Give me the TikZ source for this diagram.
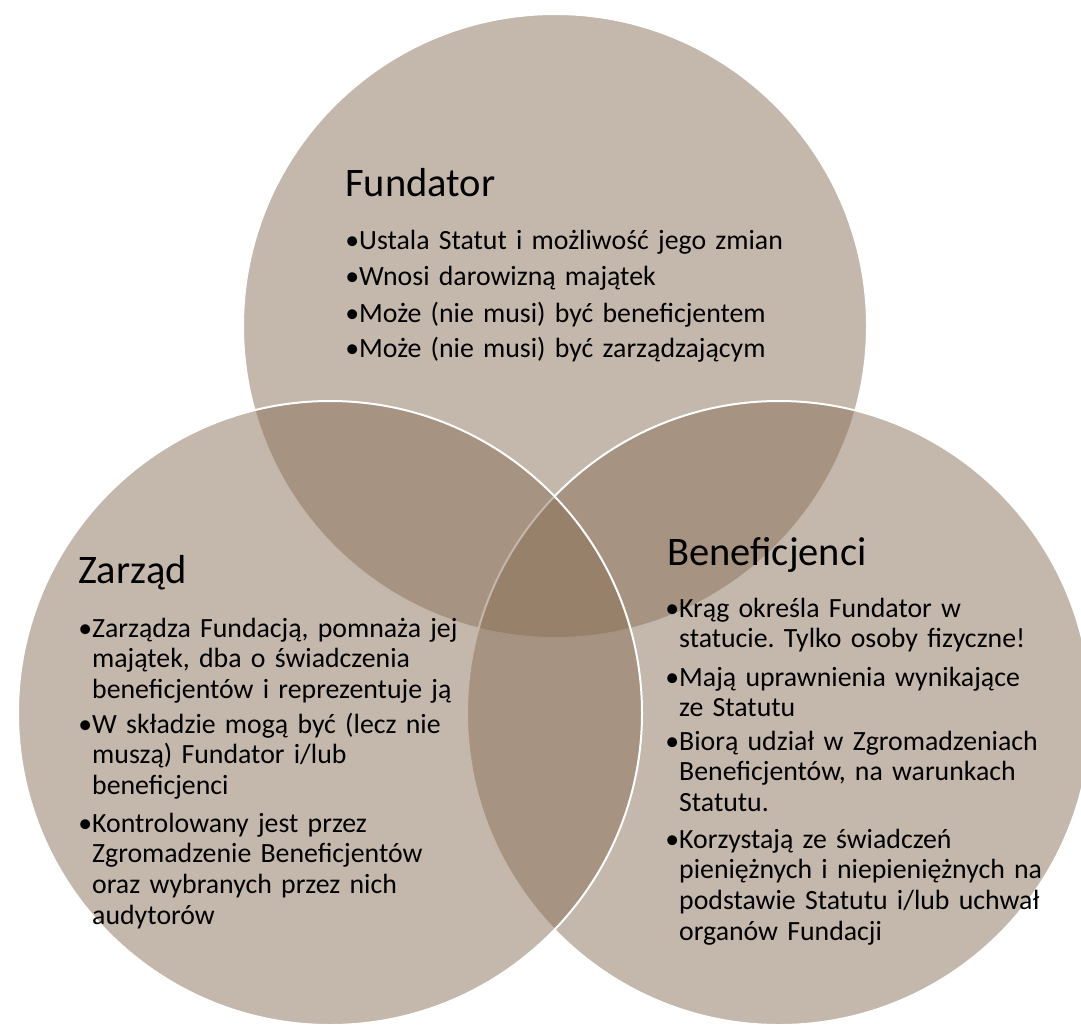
\documentclass[tikz,border=0pt]{standalone}
\usepackage{fontspec}
\setmainfont[WordSpace=0.75]{Carlito}
\definecolor{kolo}{RGB}{137,111,87}
\newcommand{\pkt}{\llap{•}}
\frenchspacing
\begin{document}
\begin{tikzpicture}[x=1pt,y=-1pt,
  krag/.style={fill=kolo,fill opacity=.5,draw=white,line width=2pt},
  tytul/.style={anchor=base west,inner sep=0pt,font=\fontsize{40.5}{44}\selectfont},
  punkt/.style={anchor=base west,inner sep=0pt,text width=480pt,align=left,font=\fontsize{27.8}{30.7}\selectfont}]
\useasboundingbox (0,0) rectangle (1081,1026);
\clip (0,0) rectangle (1081,1026);
\draw[krag] (555,326) circle[radius=312pt];
\draw[krag] (779,713) circle[radius=312pt];
\draw[krag] (330,713) circle[radius=312pt];
% Fundator
\node[tytul] (fundator) at (345,196) {Fundator};
\node[punkt] (fund1) at (359,249) {\pkt Ustala Statut i możliwość jego zmian};
\node[punkt] (fund2) at (359,285) {\pkt Wnosi darowizną majątek};
\node[punkt] (fund3) at (359,322) {\pkt Może (nie musi) być beneficjentem};
\node[punkt] (fund4) at (359,357) {\pkt Może (nie musi) być zarządzającym};
% Zarzad
\node[tytul] (zarzad) at (78,583) {Zarząd};
\node[punkt] (zarz1) at (92,637) {\pkt Zarządza Fundacją, pomnaża jej\\majątek, dba o świadczenia\\beneficjentów i reprezentuje ją};
\node[punkt] (zarz2) at (92,733) {\pkt W składzie mogą być (lecz nie\\muszą) Fundator i/lub\\beneficjenci};
\node[punkt] (zarz3) at (92,832) {\pkt Kontrolowany jest przez\\Zgromadzenie Beneficjentów\\oraz wybranych przez nich\\audytorów};
% Beneficjenci
\node[tytul] (benef) at (667,565) {Beneficjenci};
\node[punkt] (benef1) at (679,617) {\pkt Krąg określa Fundator w\\statucie. Tylko osoby fizyczne!};
\node[punkt] (benef2) at (679,686) {\pkt Mają uprawnienia wynikające\\ze Statutu};
\node[punkt] (benef3) at (679,750) {\pkt Biorą udział w Zgromadzeniach\\Beneficjentów, na warunkach\\Statutu.};
\node[punkt] (benef4) at (679,848) {\pkt Korzystają ze świadczeń\\pieniężnych i niepieniężnych na\\podstawie Statutu i/lub uchwał\\organów Fundacji};
\end{tikzpicture}
\end{document}
